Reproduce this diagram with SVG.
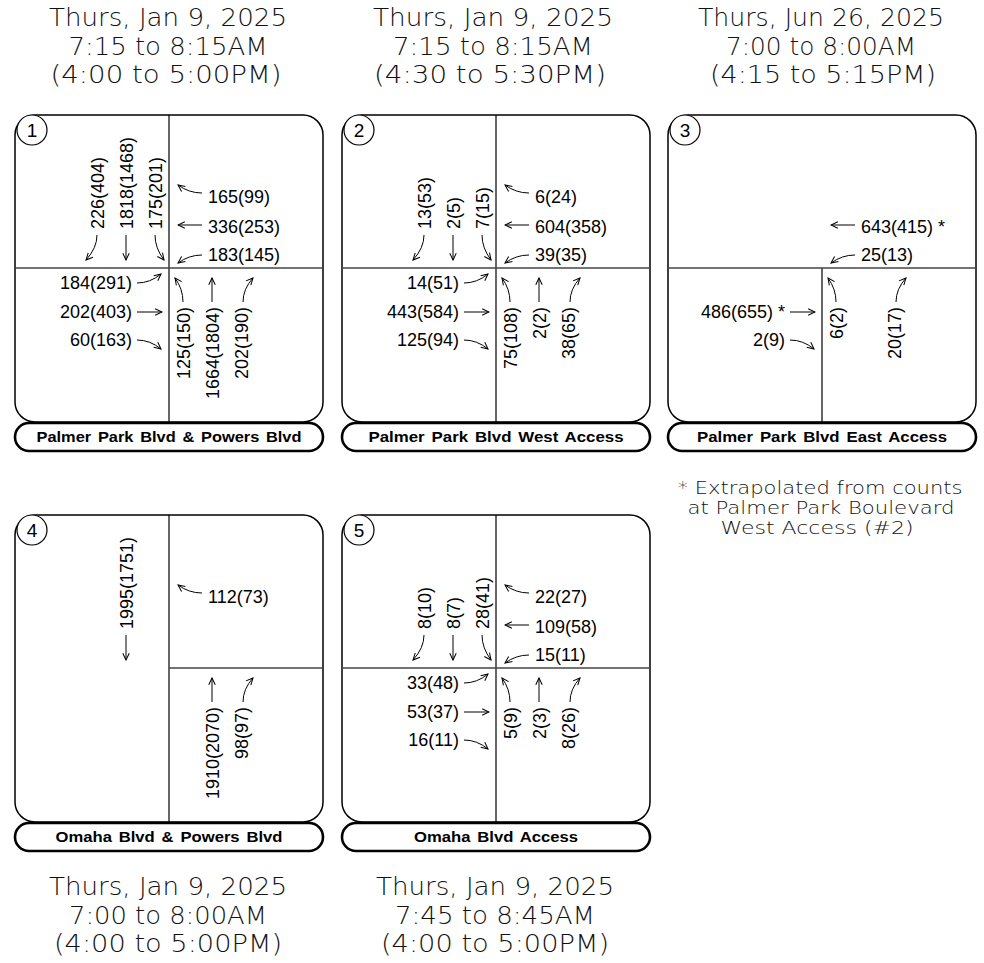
<svg xmlns="http://www.w3.org/2000/svg" width="984" height="963" viewBox="0 0 984 963">
<defs>
<marker id="ah" viewBox="0 0 10 10" refX="9" refY="5" markerWidth="8.5" markerHeight="8.5" markerUnits="userSpaceOnUse" orient="auto"><path d="M1,1.2 L9,5 L1,8.8" fill="none" stroke="#000" stroke-width="1.2"/></marker>
<style>
.box{fill:#fff;stroke:#000;stroke-width:1.5}
.rv{stroke:#000;stroke-width:1.2}
.rh{stroke:#444;stroke-width:1.6}
.pill{fill:#fff;stroke:#000;stroke-width:2.6}
.pl{font-family:"Liberation Sans",Arial,sans-serif;font-weight:bold;font-size:15px;word-spacing:2px;text-anchor:middle;fill:#000}
.n{font-family:"Liberation Sans",Arial,sans-serif;font-size:18px;fill:#000}
.e{text-anchor:end}
.hd{font-family:"DejaVu Sans",sans-serif;font-weight:200;font-size:24px;text-anchor:middle;fill:#111}
.nt{font-family:"DejaVu Sans",sans-serif;font-weight:200;font-size:18px;text-anchor:middle;fill:#111}
.cn{fill:#fff;stroke:#000;stroke-width:1.2}
.ct{font-family:"Liberation Sans",Arial,sans-serif;font-size:19px;text-anchor:middle;fill:#000}
.arr{fill:none;stroke:#000;stroke-width:1;marker-end:url(#ah)}
</style>
</defs>
<rect width="984" height="963" fill="#fff"/>

<g id="headers">
<text class="hd" x="168" y="26" textLength="238" lengthAdjust="spacingAndGlyphs">Thurs, Jan 9, 2025</text>
<text class="hd" x="168" y="55" textLength="199" lengthAdjust="spacingAndGlyphs">7:15 to 8:15AM</text>
<text class="hd" x="166" y="83" textLength="231" lengthAdjust="spacingAndGlyphs">(4:00 to 5:00PM)</text>
<text class="hd" x="493" y="26" textLength="240" lengthAdjust="spacingAndGlyphs">Thurs, Jan 9, 2025</text>
<text class="hd" x="493" y="55" textLength="200" lengthAdjust="spacingAndGlyphs">7:15 to 8:15AM</text>
<text class="hd" x="490" y="83" textLength="232" lengthAdjust="spacingAndGlyphs">(4:30 to 5:30PM)</text>
<text class="hd" x="821" y="26" textLength="246" lengthAdjust="spacingAndGlyphs">Thurs, Jun 26, 2025</text>
<text class="hd" x="821" y="55" textLength="190" lengthAdjust="spacingAndGlyphs">7:00 to 8:00AM</text>
<text class="hd" x="823" y="83" textLength="226" lengthAdjust="spacingAndGlyphs">(4:15 to 5:15PM)</text>
<text class="hd" x="168" y="895" textLength="238" lengthAdjust="spacingAndGlyphs">Thurs, Jan 9, 2025</text>
<text class="hd" x="168" y="924" textLength="198" lengthAdjust="spacingAndGlyphs">7:00 to 8:00AM</text>
<text class="hd" x="168" y="952" textLength="228" lengthAdjust="spacingAndGlyphs">(4:00 to 5:00PM)</text>
<text class="hd" x="495" y="895" textLength="238" lengthAdjust="spacingAndGlyphs">Thurs, Jan 9, 2025</text>
<text class="hd" x="495" y="924" textLength="200" lengthAdjust="spacingAndGlyphs">7:45 to 8:45AM</text>
<text class="hd" x="495" y="952" textLength="228" lengthAdjust="spacingAndGlyphs">(4:00 to 5:00PM)</text>
</g>

<g id="note">
<text class="nt" x="820" y="494" textLength="285" lengthAdjust="spacingAndGlyphs">* Extrapolated from counts</text>
<text class="nt" x="821" y="514" textLength="267" lengthAdjust="spacingAndGlyphs">at Palmer Park Boulevard</text>
<text class="nt" x="817" y="534" textLength="193" lengthAdjust="spacingAndGlyphs">West Access (#2)</text>
</g>

<g id="node1">
<rect class="box" x="15" y="115" width="308" height="307" rx="20"/>
<line class="rv" x1="169" y1="115" x2="169" y2="422"/>
<line class="rh" x1="15" y1="268" x2="323" y2="268"/>
<circle class="cn" cx="32" cy="130" r="15"/>
<text class="ct" x="32" y="137">1</text>
<rect class="pill" x="15" y="423" width="308" height="28" rx="14"/>
<text class="pl" x="169" y="442" textLength="265" lengthAdjust="spacingAndGlyphs">Palmer Park Blvd &amp; Powers Blvd</text>
<text class="n" x="208" y="203">165(99)</text>
<text class="n" x="208" y="233">336(253)</text>
<text class="n" x="208" y="261">183(145)</text>
<text class="n e" x="132" y="289">184(291)</text>
<text class="n e" x="132" y="318">202(403)</text>
<text class="n e" x="132" y="346">60(163)</text>
<text class="n" transform="translate(104,229) rotate(-90)">226(404)</text>
<text class="n" transform="translate(133,229) rotate(-90)">1818(1468)</text>
<text class="n" transform="translate(162,229) rotate(-90)">175(201)</text>
<text class="n e" transform="translate(190,307) rotate(-90)">125(150)</text>
<text class="n e" transform="translate(219,307) rotate(-90)">1664(1804)</text>
<text class="n e" transform="translate(248,307) rotate(-90)">202(190)</text>
</g>

<g id="node2">
<rect class="box" x="342" y="115" width="308" height="307" rx="20"/>
<line class="rv" x1="496" y1="115" x2="496" y2="422"/>
<line class="rh" x1="342" y1="268" x2="650" y2="268"/>
<circle class="cn" cx="359" cy="130" r="15"/>
<text class="ct" x="359" y="137">2</text>
<rect class="pill" x="342" y="423" width="308" height="28" rx="14"/>
<text class="pl" x="496" y="442" textLength="255" lengthAdjust="spacingAndGlyphs">Palmer Park Blvd West Access</text>
<text class="n" x="535" y="203">6(24)</text>
<text class="n" x="535" y="233">604(358)</text>
<text class="n" x="535" y="261">39(35)</text>
<text class="n e" x="459" y="289">14(51)</text>
<text class="n e" x="459" y="318">443(584)</text>
<text class="n e" x="459" y="346">125(94)</text>
<text class="n" transform="translate(431,229) rotate(-90)">13(53)</text>
<text class="n" transform="translate(460,229) rotate(-90)">2(5)</text>
<text class="n" transform="translate(489,229) rotate(-90)">7(15)</text>
<text class="n e" transform="translate(517,307) rotate(-90)">75(108)</text>
<text class="n e" transform="translate(546,307) rotate(-90)">2(2)</text>
<text class="n e" transform="translate(575,307) rotate(-90)">38(65)</text>
</g>

<g id="node3">
<rect class="box" x="668" y="115" width="308" height="307" rx="20"/>
<line class="rv" x1="822" y1="268" x2="822" y2="422"/>
<line class="rh" x1="668" y1="268" x2="976" y2="268"/>
<circle class="cn" cx="685" cy="130" r="15"/>
<text class="ct" x="685" y="137">3</text>
<rect class="pill" x="668" y="423" width="308" height="28" rx="14"/>
<text class="pl" x="822" y="442" textLength="250" lengthAdjust="spacingAndGlyphs">Palmer Park Blvd East Access</text>
<text class="n" x="861" y="233">643(415) *</text>
<text class="n" x="861" y="261">25(13)</text>
<text class="n e" x="785" y="318">486(655) *</text>
<text class="n e" x="785" y="346">2(9)</text>
<text class="n e" transform="translate(843,307) rotate(-90)">6(2)</text>
<text class="n e" transform="translate(901,307) rotate(-90)">20(17)</text>
</g>

<g id="node4">
<rect class="box" x="15" y="515" width="308" height="307" rx="20"/>
<line class="rv" x1="169" y1="515" x2="169" y2="822"/>
<line class="rh" x1="169" y1="668" x2="323" y2="668"/>
<circle class="cn" cx="32" cy="530" r="15"/>
<text class="ct" x="32" y="537">4</text>
<rect class="pill" x="15" y="823" width="308" height="28" rx="14"/>
<text class="pl" x="169" y="842" textLength="227" lengthAdjust="spacingAndGlyphs">Omaha Blvd &amp; Powers Blvd</text>
<text class="n" x="208" y="603">112(73)</text>
<text class="n" transform="translate(133,629) rotate(-90)">1995(1751)</text>
<text class="n e" transform="translate(219,707) rotate(-90)">1910(2070)</text>
<text class="n e" transform="translate(248,707) rotate(-90)">98(97)</text>
</g>

<g id="node5">
<rect class="box" x="342" y="515" width="308" height="307" rx="20"/>
<line class="rv" x1="496" y1="515" x2="496" y2="822"/>
<line class="rh" x1="342" y1="668" x2="650" y2="668"/>
<circle class="cn" cx="359" cy="530" r="15"/>
<text class="ct" x="359" y="537">5</text>
<rect class="pill" x="342" y="823" width="308" height="28" rx="14"/>
<text class="pl" x="496" y="842" textLength="164" lengthAdjust="spacingAndGlyphs">Omaha Blvd Access</text>
<text class="n" x="535" y="603">22(27)</text>
<text class="n" x="535" y="633">109(58)</text>
<text class="n" x="535" y="661">15(11)</text>
<text class="n e" x="459" y="689">33(48)</text>
<text class="n e" x="459" y="718">53(37)</text>
<text class="n e" x="459" y="746">16(11)</text>
<text class="n" transform="translate(431,629) rotate(-90)">8(10)</text>
<text class="n" transform="translate(460,629) rotate(-90)">8(7)</text>
<text class="n" transform="translate(489,629) rotate(-90)">28(41)</text>
<text class="n e" transform="translate(517,707) rotate(-90)">5(9)</text>
<text class="n e" transform="translate(546,707) rotate(-90)">2(3)</text>
<text class="n e" transform="translate(575,707) rotate(-90)">8(26)</text>
</g>

<g id="connectors">
<path class="arr" d="M202,193 Q189,193 178,185"/>
<path class="arr" d="M202,225 L178,225"/>
<path class="arr" d="M202,255 Q189,255 178,263"/>
<path class="arr" d="M137,283 Q150,283 161,274"/>
<path class="arr" d="M137,312 L162,312"/>
<path class="arr" d="M137,340 Q150,340 161,349"/>
<path class="arr" d="M97,235 Q97,248 86,260"/>
<path class="arr" d="M126,235 L126,260"/>
<path class="arr" d="M155,235 Q155,248 164,260"/>
<path class="arr" d="M183,302 Q183,289 175,278"/>
<path class="arr" d="M212,302 L212,278"/>
<path class="arr" d="M243,302 Q243,289 253,278"/>

<path class="arr" d="M529,193 Q516,193 505,185"/>
<path class="arr" d="M529,225 L505,225"/>
<path class="arr" d="M529,255 Q516,255 505,263"/>
<path class="arr" d="M464,283 Q477,283 488,274"/>
<path class="arr" d="M464,312 L489,312"/>
<path class="arr" d="M464,340 Q477,340 488,349"/>
<path class="arr" d="M424,235 Q424,248 413,260"/>
<path class="arr" d="M453,235 L453,260"/>
<path class="arr" d="M482,235 Q482,248 491,260"/>
<path class="arr" d="M510,302 Q510,289 502,278"/>
<path class="arr" d="M539,302 L539,278"/>
<path class="arr" d="M570,302 Q570,289 580,278"/>

<path class="arr" d="M855,225 L831,225"/>
<path class="arr" d="M855,255 Q842,255 831,263"/>
<path class="arr" d="M790,312 L815,312"/>
<path class="arr" d="M790,340 Q803,340 814,349"/>
<path class="arr" d="M836,302 Q836,289 828,278"/>
<path class="arr" d="M896,302 Q896,289 906,278"/>

<path class="arr" d="M202,593 Q189,593 178,585"/>
<path class="arr" d="M126,635 L126,660"/>
<path class="arr" d="M212,702 L212,678"/>
<path class="arr" d="M243,702 Q243,689 253,678"/>

<path class="arr" d="M529,593 Q516,593 505,585"/>
<path class="arr" d="M529,625 L505,625"/>
<path class="arr" d="M529,655 Q516,655 505,663"/>
<path class="arr" d="M464,683 Q477,683 488,674"/>
<path class="arr" d="M464,712 L489,712"/>
<path class="arr" d="M464,740 Q477,740 488,749"/>
<path class="arr" d="M424,635 Q424,648 413,660"/>
<path class="arr" d="M453,635 L453,660"/>
<path class="arr" d="M482,635 Q482,648 491,660"/>
<path class="arr" d="M510,702 Q510,689 502,678"/>
<path class="arr" d="M539,702 L539,678"/>
<path class="arr" d="M570,702 Q570,689 580,678"/>
</g>
</svg>
